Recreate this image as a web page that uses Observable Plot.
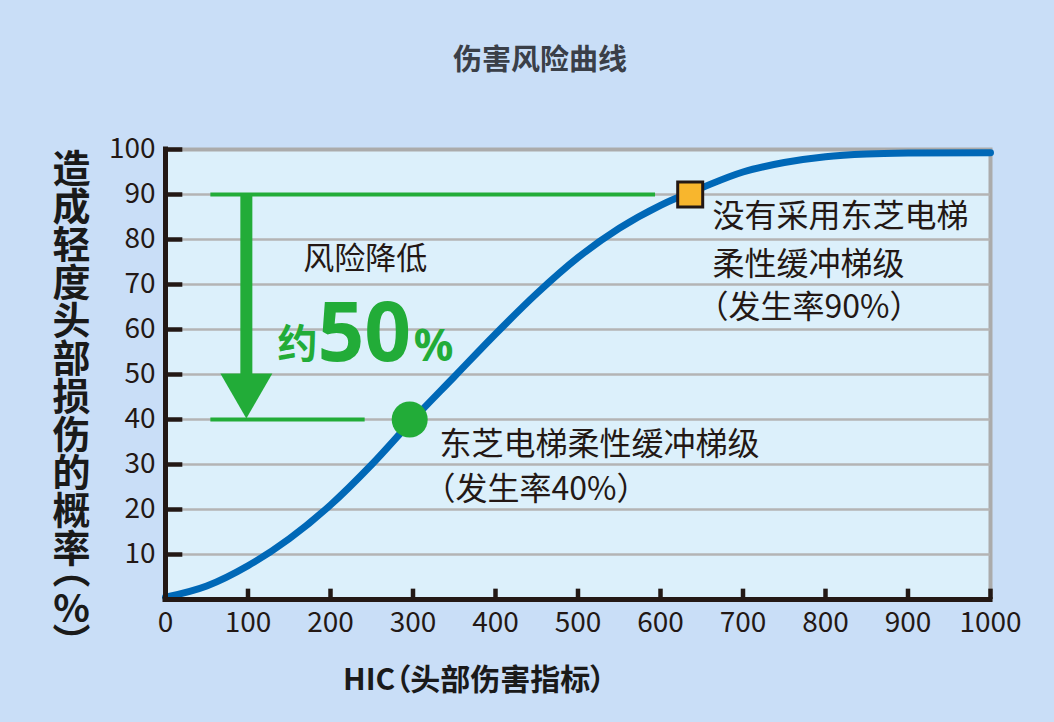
<!DOCTYPE html>
<html><head><meta charset="utf-8">
<script src="https://cdn.jsdelivr.net/npm/d3@7"></script>
<script src="https://cdn.jsdelivr.net/npm/@observablehq/plot@0.6"></script>
<style>
body{margin:0;background:#c9def7;}
#wrap{position:relative;width:1054px;height:722px;background:#c9def7;font-family:"Noto Sans CJK SC","Noto Sans",sans-serif;overflow:hidden}
#title{position:absolute;top:41px;left:0;width:1054px;box-sizing:border-box;padding-left:26px;text-align:center;font-size:29px;line-height:32px;font-weight:700;color:#3a3f48}
#chart{position:absolute;top:100px;left:0}
#ylab{position:absolute;left:52px;top:149px;writing-mode:vertical-rl;font-size:38px;line-height:38px;font-weight:700;color:#1a1a1a;font-feature-settings:"vpal"}
#ylab .pct{text-combine-upright:all}
#xlab{position:absolute;left:343px;top:660px;font-size:30px;line-height:34px;font-weight:700;color:#1a1a1a;font-feature-settings:"palt";white-space:nowrap}
</style></head>
<body>
<div id="wrap">
  <div id="title"></div>
  <div id="chart"></div>
  <div id="ylab"></div>
  <div id="xlab"></div>
</div>
<script>
// ---- data ----
const titleText = "伤害风险曲线";
const yLabelMain = "造成轻度头部损伤的概率（";
const yLabelPct = "%";
const yLabelEnd = "）";
const xLabelText = "HIC（头部伤害指标）";

const hic  = [0, 50, 100, 150, 200, 250, 300, 350, 400, 450, 500, 550, 600, 650, 700, 750, 800, 850, 900, 1000];
const risk = [0.5, 3, 7.5, 13.5, 21, 30, 40, 49.5, 59, 68, 76, 82.5, 87.6, 91.5, 95.0, 97.1, 98.4, 99.0, 99.2, 99.3];

const xTicks = [0, 100, 200, 300, 400, 500, 600, 700, 800, 900, 1000];
const yTicks = [10, 20, 30, 40, 50, 60, 70, 80, 90, 100];
const gridY = [10, 20, 30, 40, 50, 60, 70, 80, 90];

// reference levels (with / without the cushioned step)
const levelY  = [90, 40];
const levelX1 = [55, 55];
const levelX2 = [594, 242];

// arrow from 90% down to 40%
const arrowX = [98];
const arrowFrom = [90];
const arrowTo = [40];

// highlighted points
const pointWithX = [296], pointWithY = [40];
const pointWithoutX = [636], pointWithoutY = [90];

// annotations
const noteWithout = ["没有采用东芝电梯", "柔性缓冲梯级"];
const noteWithoutY = [85.1, 74.4];
const noteWithoutRate = ["（发生率90%）"], noteWithoutRateY = [64.9];
const noteWithoutX = 663;
const noteWith = ["东芝电梯柔性缓冲梯级"];
const noteWithY = [34.4];
const noteWithRate = ["（发生率40%）"], noteWithRateY = [24.4];
const noteWithX = 332;
const reduceLabel = ["风险降低"], reduceX = [242], reduceY = [75.6];
const bigParts = ["约", "50", "%"];
const bigX = [160, 241, 325];
const bigY = [53.7, 53.1, 53.1];

// ---- styles ----
const green = "#22ac38", blue = "#0068b7", dark = "#231815";
const latin = '"Noto Sans","Noto Sans CJK SC",sans-serif';

document.getElementById("title").textContent = titleText;
const yl = document.getElementById("ylab");
yl.append(yLabelMain);
const sp = document.createElement("span"); sp.className = "pct"; sp.textContent = yLabelPct; yl.append(sp);
yl.append(yLabelEnd);
document.getElementById("xlab").textContent = xLabelText;

const curve = hic.map((x, i) => ({x, y: risk[i]}));
const levels = levelY.map((y, i) => ({y, x1: levelX1[i], x2: levelX2[i]}));
const arrows = arrowX.map((x, i) => ({x, y1: arrowFrom[i], y2: arrowTo[i]}));
const lines = (arr, ys, x) => arr.map((t, i) => ({t, x, y: ys[i]}));

const chart = Plot.plot({
  width: 1054, height: 622,
  marginLeft: 165, marginRight: 64, marginTop: 49, marginBottom: 123,
  style: {background: "transparent", color: dark, fontFamily: '"Noto Sans CJK SC","Noto Sans",sans-serif', overflow: "visible"},
  x: {domain: [0, 1000]},
  y: {domain: [0, 100]},
  marks: [
    Plot.frame({fill: "#dcf0fb", stroke: "#ababab", strokeWidth: 4}),
    Plot.ruleY(gridY, {stroke: "#b4b4b4", strokeWidth: 2.5}),
    Plot.ruleY(levels, {y: "y", x1: "x1", x2: "x2", stroke: green, strokeWidth: 4}),
    Plot.ruleX(arrows, {x: "x", y1: "y1", y2: d => d.y2 + 8, stroke: green, strokeWidth: 12}),
    Plot.dot(arrows, {x: "x", y: "y2", symbol: "triangle", r: 19.3, rotate: 180, fill: green, dy: -31}),
    Plot.line(curve, {x: "x", y: "y", stroke: blue, strokeWidth: 7, curve: "monotone-x"}),
    Plot.ruleX([0], {stroke: dark, strokeWidth: 5, strokeLinecap: "square"}),
    Plot.ruleY([0], {stroke: dark, strokeWidth: 5, strokeLinecap: "square"}),
    Plot.ruleY(yTicks, {x1: 0, x2: 21, stroke: dark, strokeWidth: 4.5}),
    Plot.ruleX(xTicks.filter(d => d > 0), {y1: 0, y2: 2.3, stroke: dark, strokeWidth: 4.5}),
    Plot.axisY({ticks: yTicks, tickSize: 0, tickPadding: 10, fontSize: 28, label: null, tickFormat: d => String(d)}),
    Plot.axisX({ticks: xTicks, tickSize: 0, tickPadding: 13, fontSize: 28, label: null, tickFormat: d => String(d)}),
    Plot.dot(pointWithX.map((x, i) => ({x, y: pointWithY[i]})), {x: "x", y: "y", r: 18, fill: green}),
    Plot.dot(pointWithoutX.map((x, i) => ({x, y: pointWithoutY[i]})), {x: "x", y: "y", symbol: "square", r: 14.1, fill: "#f8b62d", stroke: dark, strokeWidth: 3}),
    Plot.text(lines(noteWithout, noteWithoutY, noteWithoutX), {x: "x", y: "y", text: "t", textAnchor: "start", fontSize: 32, fill: dark}),
    Plot.text(lines(noteWithoutRate, noteWithoutRateY, noteWithoutX), {x: "x", y: "y", text: "t", textAnchor: "start", fontSize: 32, fill: dark, dx: -16}),
    Plot.text(lines(noteWith, noteWithY, noteWithX), {x: "x", y: "y", text: "t", textAnchor: "start", fontSize: 32, fill: dark}),
    Plot.text(lines(noteWithRate, noteWithRateY, noteWithX), {x: "x", y: "y", text: "t", textAnchor: "start", fontSize: 32, fill: dark, dx: -16}),
    Plot.text(reduceLabel.map((t, i) => ({t, x: reduceX[i], y: reduceY[i]})), {x: "x", y: "y", text: "t", fontSize: 31, fill: dark}),
    Plot.text([0], {x: bigX[0], y: bigY[0], text: [bigParts[0]], fontSize: 40, fontWeight: 700, fill: green, lineAnchor: "bottom"}),
    Plot.text([0], {x: bigX[1], y: bigY[1], text: [bigParts[1]], fontSize: 82, fontWeight: 700, fill: green, lineAnchor: "bottom", fontFamily: latin}),
    Plot.text([0], {x: bigX[2], y: bigY[2], text: [bigParts[2]], fontSize: 44, fontWeight: 700, fill: green, lineAnchor: "bottom", fontFamily: latin})
  ]
});
document.getElementById("chart").append(chart);
</script>
</body></html>
